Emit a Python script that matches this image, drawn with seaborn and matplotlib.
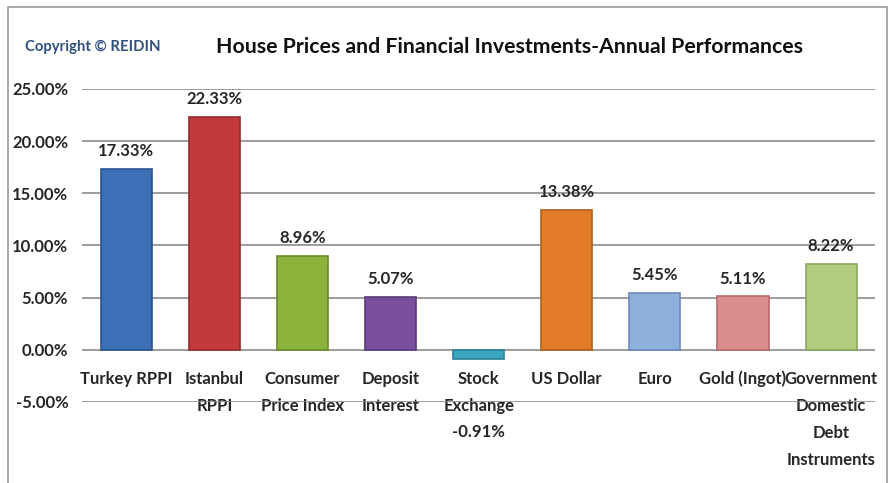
import matplotlib
matplotlib.use("Agg")
import matplotlib.pyplot as plt
import seaborn as sns
from matplotlib.patches import Rectangle
from matplotlib.ticker import FuncFormatter

# data
categories = ["Turkey RPPI", "Istanbul RPPI", "Consumer Price Index", "Deposit Interest",
              "Stock Exchange", "US Dollar", "Euro", "Gold (Ingot)",
              "Government Domestic Debt Instruments"]
tick_labels = ["Turkey RPPI", "Istanbul\nRPPI", "Consumer\nPrice Index", "Deposit\nInterest",
               "Stock\nExchange", "US Dollar", "Euro", "Gold (Ingot)",
               "Government\nDomestic\nDebt\nInstruments"]
returns = [17.33, 22.33, 8.96, 5.07, -0.91, 13.38, 5.45, 5.11, 8.22]
bar_colors = ["#3b6fb6", "#c23b3a", "#8cb33c", "#7a4f9e", "#3aa6bf",
              "#e27b27", "#8fb0dd", "#dc8e8e", "#b1cc80"]
edge_colors = ["#2a5590", "#962a2a", "#6a8a2a", "#5b3a7a", "#2a8098",
               "#b35f1a", "#6a8cbc", "#b86a6a", "#8aa85c"]

sns.set_theme(style="white")
plt.rcParams["font.family"] = ["Lato", "DejaVu Sans"]

fig = plt.figure(figsize=(8.93, 4.83), dpi=100)
ax = fig.add_axes([0.092, 0.168, 0.888, 0.648])

sns.barplot(x=categories, y=returns, hue=categories, palette=bar_colors,
            width=0.58, legend=False, ax=ax, saturation=1)
for patch, ec in zip(ax.patches, edge_colors):
    patch.set_edgecolor(ec)
    patch.set_linewidth(1.2)

ax.set_ylim(-5, 25)
ax.set_yticks([-5, 0, 5, 10, 15, 20, 25])
ax.yaxis.set_major_formatter(FuncFormatter(lambda v, p: f"{v:.2f}%"))
ax.grid(axis="y", color="#8c8c8c", linewidth=1.2)
ax.set_axisbelow(True)
for s in ax.spines.values():
    s.set_visible(False)
ax.spines["bottom"].set_position(("data", 0))

ax.set_xticks(range(len(categories)))
ax.set_xticklabels(tick_labels, fontsize=12, fontweight="bold", linespacing=1.85,
                   va="top")
ax.tick_params(axis="x", length=0, pad=15)
ax.tick_params(axis="y", length=0, pad=10, labelsize=12)
for t in ax.get_yticklabels():
    t.set_fontweight("bold")

# value labels
for i, v in enumerate(returns):
    if v >= 0:
        ax.annotate(f"{v:.2f}%", (i, v), xytext=(0, 7), textcoords="offset points",
                    ha="center", va="bottom", fontsize=12, fontweight="bold")
    else:
        ax.annotate(f"{v:.2f}%", (i, v), xytext=(0, -47), textcoords="offset points",
                    ha="center", va="top", fontsize=12, fontweight="bold")

fig.text(0.571, 0.903, "House Prices and Financial Investments-Annual Performances",
         ha="center", va="center", fontsize=15.3, fontweight="bold", color="#111111")
fig.text(0.028, 0.903, "Copyright \u00a9 REIDIN", ha="left", va="center",
         fontsize=10.7, fontweight="bold", color="#2f4f80")

fig.patches.append(Rectangle((0.009, -0.1), 0.984, 1.085, transform=fig.transFigure,
                             fill=False, edgecolor="#9a9a9a", linewidth=1.2))

fig.savefig("out.png", dpi=100)
